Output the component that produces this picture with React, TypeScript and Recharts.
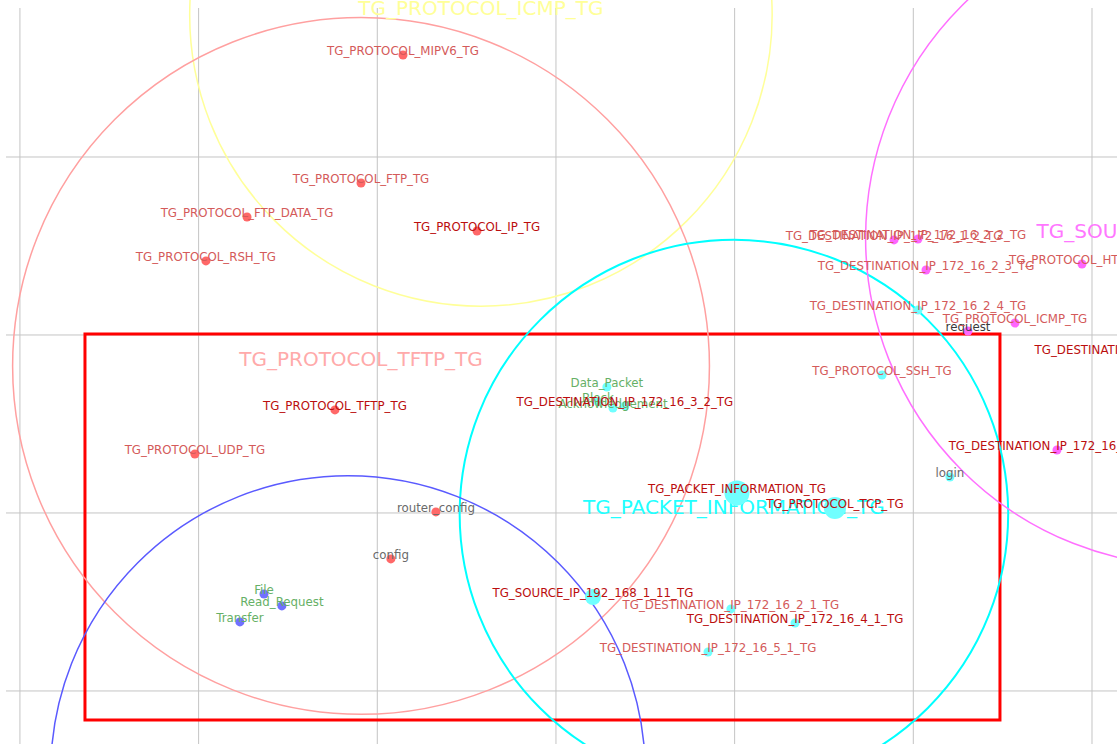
import React from "react";
import {
  CartesianGrid,
  ReferenceArea,
  Scatter,
  ScatterChart,
  XAxis,
  YAxis,
} from "recharts";

// cluster circles (centre + spread, in grid units)
const clusterNames = [
  "TG_PROTOCOL_ICMP_TG",
  "TG_PROTOCOL_TFTP_TG",
  "TG_PACKET_INFORMATION_TG",
  "TG_SOURCE_IP_172_16_1_2_TG",
  "",
];
const clusterX = [2.58, 1.909, 3.996, 6.571, 1.836];
const clusterY = [3.798, 1.826, 0.994, 2.545, -0.461];
const clusterR = [1.63, 1.95, 1.535, 1.838, 1.664];

// nodes
const nodeNames = [
  "TG_PROTOCOL_MIPV6_TG",
  "TG_PROTOCOL_FTP_TG",
  "TG_PROTOCOL_FTP_DATA_TG",
  "TG_PROTOCOL_IP_TG",
  "TG_PROTOCOL_RSH_TG",
  "TG_PROTOCOL_TFTP_TG",
  "TG_PROTOCOL_UDP_TG",
  "router_config",
  "config",
  "File",
  "Read_Request",
  "Transfer",
  "Data_Packet",
  "Block",
  "Acknowledgement",
  "TG_DESTINATION_IP_172_16_3_2_TG",
  "TG_PACKET_INFORMATION_TG",
  "TG_PROTOCOL_TCP_TG",
  "TG_PROTOCOL_SSH_TG",
  "login",
  "TG_DESTINATION_IP_172_16_2_4_TG",
  "request",
  "TG_SOURCE_IP_192_168_1_11_TG",
  "TG_DESTINATION_IP_172_16_2_1_TG",
  "TG_DESTINATION_IP_172_16_4_1_TG",
  "TG_DESTINATION_IP_172_16_5_1_TG",
  "TG_DESTINATION_IP_172_16_1_2_TG",
  "TG_DESTINATION_IP_172_16_2_2_TG",
  "TG_DESTINATION_IP_172_16_2_3_TG",
  "TG_PROTOCOL_HTTP_TG",
  "TG_PROTOCOL_ICMP_TG",
  "TG_DESTINATION_IP_172_16_3_1_TG",
  "TG_DESTINATION_IP_172_16_3_3_TG",
];
const nodeX = [
  2.144, 1.909, 1.271, 2.558, 1.041, 1.763, 0.979, 2.328, 2.076, 1.366, 1.466,
  1.231, 3.285, 3.235, 3.319, 3.386, 4.013, 4.561, 4.825, 5.205, 5.026, 5.306,
  3.207, 3.979, 4.338, 3.851, 4.892, 5.026, 5.071, 5.944, 5.569, 5.804, 6.285,
];
const nodeY = [
  3.573, 2.854, 2.663, 2.584, 2.416, 1.579, 1.331, 1.006, 0.742, 0.545, 0.478,
  0.388, 1.708, 1.624, 1.59, 1.601, 1.112, 1.028, 1.775, 1.202, 2.14, 2.022,
  0.528, 0.461, 0.382, 0.219, 2.534, 2.539, 2.365, 2.399, 2.067, 1.354, 1.893,
];
const nodeCluster = [
  1, 1, 1, 1, 1, 1, 1, 1, 1, 4, 4, 4, 2, 2, 2, 2, 2, 2, 2, 2, 2, 3, 2, 2, 2, 2,
  3, 3, 3, 3, 3, 3, 3,
];
const nodeKind = [
  "leaf", "leaf", "leaf", "hub", "leaf", "hub", "leaf", "term", "term", "act",
  "act", "act", "act", "act", "act", "hub", "hub", "hub", "leaf", "term",
  "leaf", "term2", "hub", "leaf", "hub", "leaf", "leaf", "leaf", "leaf", "leaf",
  "leaf", "hub", "hub",
];

// selection frame
const frameX = [0.364, 5.485];
const frameY = [-0.163, 2.006];

const gridX = [0, 1, 2, 3, 4, 5, 6];
const gridY = [0, 1, 2, 3];

const W = 1117;
const H = 744;
const MARGIN = { top: 0, right: 0, bottom: 0, left: 6 };
const X_DOMAIN = [-0.078, 6.14];
const Y_DOMAIN = [-0.298, 3.882];
const PX_PER_UNIT = (W - MARGIN.left - MARGIN.right) / (X_DOMAIN[1] - X_DOMAIN[0]);
const FONT = "DejaVu Sans, sans-serif";

const circleStroke = ["#ffff99", "#ffa0a0", "#00ffff", "#ff70ff", "#5a5aff"];
const circleWidth = [1.5, 1.5, 2, 1.5, 1.5];
const bigLabelColor = ["#ffff99", "#ffaaaa", "#22ffff", "#ff77ff", "#5a5aff"];
const dotColor = ["#ffff66", "#ff6868", "#70ffff", "#ff66ff", "#7070ff"];
const kindColor: Record<string, string> = {
  leaf: "#d45a5a",
  hub: "#bb0e0e",
  term: "#6a6a6a",
  term2: "#3a3a3a",
  act: "#66b066",
};
const bigDots: Record<string, number> = {
  TG_PACKET_INFORMATION_TG: 12.5,
  TG_PROTOCOL_TCP_TG: 11,
  TG_SOURCE_IP_192_168_1_11_TG: 8,
};

const clusters = clusterNames.map((name, i) => ({
  name,
  x: clusterX[i],
  y: clusterY[i],
  r: clusterR[i],
  i,
}));
const nodes = nodeNames.map((name, i) => ({
  name,
  x: nodeX[i],
  y: nodeY[i],
  cluster: nodeCluster[i],
  kind: nodeKind[i],
}));
const nodesBack = nodes.filter((n) => !bigDots[n.name]);
const nodesFront = nodes.filter((n) => bigDots[n.name]);

const ClusterShape = (props: any) => {
  const { cx, cy, payload } = props;
  return (
    <circle
      cx={cx}
      cy={cy}
      r={payload.r * PX_PER_UNIT}
      fill="none"
      stroke={circleStroke[payload.i]}
      strokeWidth={circleWidth[payload.i]}
    />
  );
};

const ClusterLabel = (props: any) => {
  const { cx, cy, payload } = props;
  if (!payload.name) return <g />;
  return (
    <text
      x={cx}
      y={cy}
      textAnchor="middle"
      fontFamily={FONT}
      fontSize={20}
      fill={bigLabelColor[payload.i]}
    >
      {payload.name}
    </text>
  );
};

const NodeDot = (props: any) => {
  const { cx, cy, payload } = props;
  return (
    <circle
      cx={cx}
      cy={cy}
      r={bigDots[payload.name] ?? 4.5}
      fill={dotColor[payload.cluster]}
    />
  );
};

const NodeLabel = (props: any) => {
  const { cx, cy, payload } = props;
  return (
    <text
      x={cx}
      y={cy}
      textAnchor="middle"
      fontFamily={FONT}
      fontSize={11.8}
      fill={kindColor[payload.kind]}
    >
      {payload.name}
    </text>
  );
};

export default function App() {
  return (
    <div style={{ position: "absolute", left: 0, top: 0, background: "#fff" }}>
      <ScatterChart width={W} height={H} margin={MARGIN}>
        <CartesianGrid stroke="#c4c4c4" y={8} height={H - 8} syncWithTicks />
        <XAxis
          type="number"
          dataKey="x"
          domain={X_DOMAIN}
          ticks={gridX}
          allowDataOverflow
          hide
        />
        <YAxis
          type="number"
          dataKey="y"
          domain={Y_DOMAIN}
          ticks={gridY}
          allowDataOverflow
          hide
        />
        <Scatter data={clusters} shape={ClusterShape} isAnimationActive={false} />
        <Scatter data={clusters} shape={ClusterLabel} isAnimationActive={false} />
        <Scatter data={nodesBack} shape={NodeDot} isAnimationActive={false} />
        <Scatter data={nodesFront} shape={NodeDot} isAnimationActive={false} />
        <Scatter data={nodes} shape={NodeLabel} isAnimationActive={false} />
        <ReferenceArea
          x1={frameX[0]}
          x2={frameX[1]}
          y1={frameY[0]}
          y2={frameY[1]}
          fill="none"
          fillOpacity={0}
          stroke="#ff0000"
          strokeWidth={3}
          strokeOpacity={1}
          ifOverflow="visible"
        />
      </ScatterChart>
    </div>
  );
}
